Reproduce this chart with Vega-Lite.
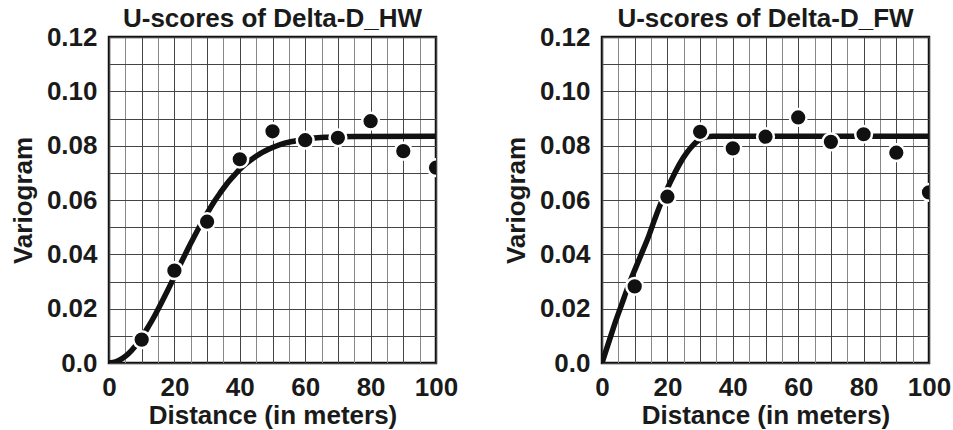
{
  "$schema": "https://vega.github.io/schema/vega-lite/v6.json",
  "background": "white",
  "padding": {"left": 9, "top": 4, "right": 0, "bottom": 0},
  "spacing": 43,
  "config": {
    "font": "Liberation Sans",
    "view": {"stroke": "#111", "strokeWidth": 2.5},
    "title": {"fontSize": 26, "fontWeight": "bold", "color": "#1a1a1a", "anchor": "middle", "offset": -8},
    "axis": {
      "labelFontSize": 26, "labelFontWeight": "bold", "labelColor": "#1a1a1a",
      "titleFontSize": 26, "titleFontWeight": "bold", "titleColor": "#1a1a1a",
      "ticks": false, "domain": false, "labelPadding": 12, "titlePadding": 10,
      "labelOverlap": false, "labelFlush": false, "labelBound": false,
      "gridColor": "#444", "gridOpacity": 1, "gridWidth": 1
    },
    "axisX": {"titlePadding": 2, "labelPadding": 11}
  },
  "datasets": {
    "hw_pts": [
      {"distance": 10, "variogram": 0.0086}, {"distance": 20, "variogram": 0.034},
      {"distance": 30, "variogram": 0.052}, {"distance": 40, "variogram": 0.075},
      {"distance": 50, "variogram": 0.0853}, {"distance": 60, "variogram": 0.082},
      {"distance": 70, "variogram": 0.0829}, {"distance": 80, "variogram": 0.089},
      {"distance": 90, "variogram": 0.078}, {"distance": 100, "variogram": 0.0719}
    ],
    "hw_fit": [
      {"distance": 0, "variogram": 0}, {"distance": 2, "variogram": 0.0004},
      {"distance": 4, "variogram": 0.0016}, {"distance": 6, "variogram": 0.0035},
      {"distance": 8, "variogram": 0.0062}, {"distance": 10, "variogram": 0.0094},
      {"distance": 12, "variogram": 0.0133}, {"distance": 14, "variogram": 0.0175},
      {"distance": 16, "variogram": 0.0221}, {"distance": 18, "variogram": 0.0269},
      {"distance": 20, "variogram": 0.0318}, {"distance": 22, "variogram": 0.0368},
      {"distance": 24, "variogram": 0.0417}, {"distance": 26, "variogram": 0.0464},
      {"distance": 28, "variogram": 0.0509}, {"distance": 30, "variogram": 0.0551},
      {"distance": 32, "variogram": 0.0591}, {"distance": 34, "variogram": 0.0626},
      {"distance": 36, "variogram": 0.0659}, {"distance": 38, "variogram": 0.0687},
      {"distance": 40, "variogram": 0.0713}, {"distance": 42, "variogram": 0.0735},
      {"distance": 44, "variogram": 0.0753}, {"distance": 46, "variogram": 0.0769},
      {"distance": 48, "variogram": 0.0782}, {"distance": 50, "variogram": 0.0793},
      {"distance": 54, "variogram": 0.081}, {"distance": 58, "variogram": 0.082},
      {"distance": 62, "variogram": 0.0827}, {"distance": 66, "variogram": 0.0831},
      {"distance": 70, "variogram": 0.0833}, {"distance": 75, "variogram": 0.0834},
      {"distance": 100, "variogram": 0.0835}
    ],
    "fw_pts": [
      {"distance": 10, "variogram": 0.0282}, {"distance": 20, "variogram": 0.0612},
      {"distance": 30, "variogram": 0.0851}, {"distance": 40, "variogram": 0.079},
      {"distance": 50, "variogram": 0.0833}, {"distance": 60, "variogram": 0.0904},
      {"distance": 70, "variogram": 0.0814}, {"distance": 80, "variogram": 0.0842},
      {"distance": 90, "variogram": 0.0774}, {"distance": 100, "variogram": 0.0628}
    ],
    "fw_fit": [
      {"distance": 0, "variogram": 0}, {"distance": 2, "variogram": 0.0074},
      {"distance": 4, "variogram": 0.0148}, {"distance": 6, "variogram": 0.0215},
      {"distance": 8, "variogram": 0.0282}, {"distance": 10, "variogram": 0.0342},
      {"distance": 12, "variogram": 0.04}, {"distance": 14, "variogram": 0.0458},
      {"distance": 16, "variogram": 0.0525}, {"distance": 18, "variogram": 0.0588},
      {"distance": 20, "variogram": 0.0643}, {"distance": 22, "variogram": 0.0693},
      {"distance": 24, "variogram": 0.0738}, {"distance": 26, "variogram": 0.0775},
      {"distance": 28, "variogram": 0.0804}, {"distance": 30, "variogram": 0.0823},
      {"distance": 32, "variogram": 0.0833}, {"distance": 34, "variogram": 0.0835},
      {"distance": 100, "variogram": 0.0835}
    ]
  },
  "hconcat": [
    {
      "title": "U-scores of Delta-D_HW",
      "width": 327, "height": 326,
      "encoding": {
        "x": {"field": "distance", "type": "quantitative", "scale": {"domain": [0, 100], "nice": false},
              "axis": {"title": "Distance (in meters)", "values": [0,5,10,15,20,25,30,35,40,45,50,55,60,65,70,75,80,85,90,95,100],
                       "labelExpr": "datum.value % 20 === 0 ? datum.label : ''",
                       "gridColor": {"condition": {"test": "datum.value % 10 === 0", "value": "#444"}, "value": "#888"}}},
        "y": {"field": "variogram", "type": "quantitative", "scale": {"domain": [0, 0.12], "nice": false},
              "axis": {"title": "Variogram", "values": [0,0.01,0.02,0.03,0.04,0.05,0.06,0.07,0.08,0.09,0.1,0.11,0.12],
                       "labelExpr": "round(datum.value*100) % 2 === 0 ? (datum.value === 0 ? '0.0' : format(datum.value, '.2f')) : ''"}}
      },
      "layer": [
        {
          "data": {"name": "hw_fit"},
          "mark": {"type": "line", "color": "#111", "strokeWidth": 5.5, "interpolate": "monotone", "clip": true}
        },
        {
          "data": {"name": "hw_pts"},
          "mark": {"type": "point", "filled": true, "fill": "#111", "stroke": "white", "strokeWidth": 2.5, "size": 280, "opacity": 1, "clip": true}
        }
      ]
    },
    {
      "title": "U-scores of Delta-D_FW",
      "width": 327, "height": 326,
      "encoding": {
        "x": {"field": "distance", "type": "quantitative", "scale": {"domain": [0, 100], "nice": false},
              "axis": {"title": "Distance (in meters)", "values": [0,5,10,15,20,25,30,35,40,45,50,55,60,65,70,75,80,85,90,95,100],
                       "labelExpr": "datum.value % 20 === 0 ? datum.label : ''",
                       "gridColor": {"condition": {"test": "datum.value % 10 === 0", "value": "#444"}, "value": "#888"}}},
        "y": {"field": "variogram", "type": "quantitative", "scale": {"domain": [0, 0.12], "nice": false},
              "axis": {"title": "Variogram", "values": [0,0.01,0.02,0.03,0.04,0.05,0.06,0.07,0.08,0.09,0.1,0.11,0.12],
                       "labelExpr": "round(datum.value*100) % 2 === 0 ? (datum.value === 0 ? '0.0' : format(datum.value, '.2f')) : ''"}}
      },
      "layer": [
        {
          "data": {"name": "fw_fit"},
          "mark": {"type": "line", "color": "#111", "strokeWidth": 5.5, "interpolate": "monotone", "clip": true}
        },
        {
          "data": {"name": "fw_pts"},
          "mark": {"type": "point", "filled": true, "fill": "#111", "stroke": "white", "strokeWidth": 2.5, "size": 280, "opacity": 1, "clip": true}
        }
      ]
    }
  ]
}
